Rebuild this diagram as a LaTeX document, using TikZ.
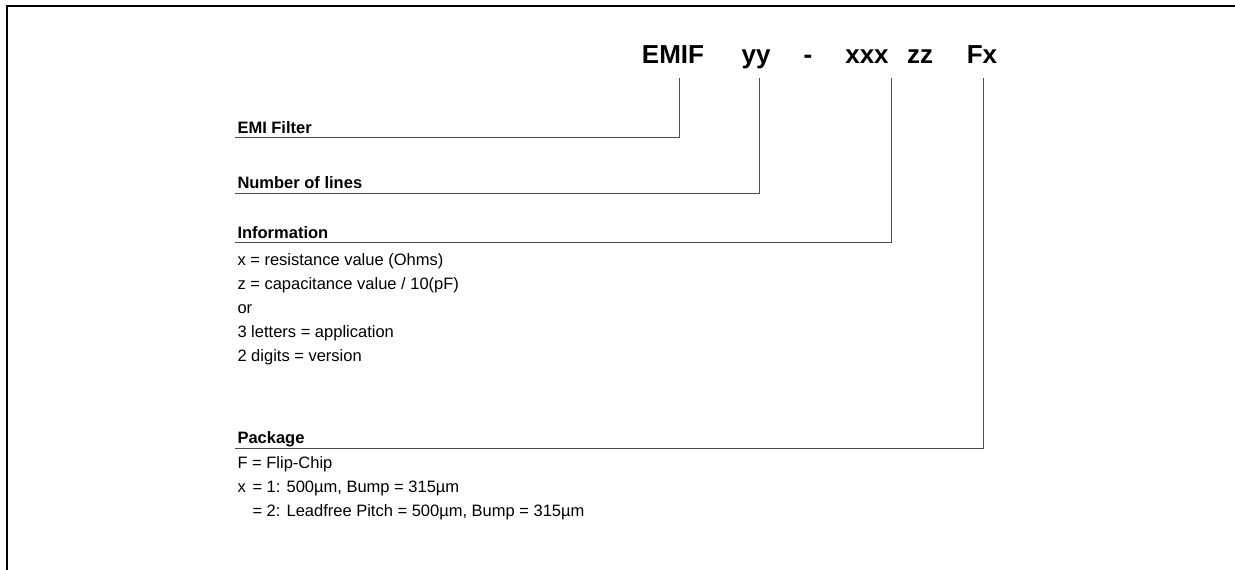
\documentclass[tikz,border=0pt]{standalone}
\usepackage{fontspec}
\setmainfont{Liberation Sans}
\usetikzlibrary{positioning}
\tikzset{
  every picture/.style={line width=1pt},
  code/.style={font=\fontsize{26}{30}\selectfont\bfseries, anchor=base, inner sep=0pt},
  field/.style={font=\fontsize{16.5}{20}\selectfont\bfseries, anchor=base west, inner sep=0pt},
  txt/.style={font=\fontsize{16.5}{20}\selectfont, anchor=base west, inner sep=0pt},
  lead/.style={draw=black!70, line width=1pt},
  frame/.style={draw=black, line width=2pt},
}
\begin{document}
\begin{tikzpicture}[x=1pt, y=-1pt]
  \useasboundingbox (0,0) rectangle (1235,570);
  \draw[frame] (7,570) -- (7,6) -- (1235,6);
  % ordering code
  \node[code] (emif) at (673,63) {EMIF};
  \node[code] (yy) at (756,63) {yy};
  \node[code] (dash) at (808,63) {-};
  \node[code] (xxx) at (867,63) {xxx};
  \node[code] (zz) at (920,63) {zz};
  \node[code] (fx) at (982,63) {Fx};
  % fields
  \node[field] (emi) at (237,133) {EMI Filter};
  \node[field] (lines) at (237,188) {Number of lines};
  \node[field] (info) at (237,238) {Information};
  \node[txt] (i1) at (237,265) {x = resistance value (Ohms)};
  \node[txt] (i2) at (237,289) {z = capacitance value / 10(pF)};
  \node[txt] (i3) at (237,313) {or};
  \node[txt] (i4) at (237,337) {3 letters = application};
  \node[txt] (i5) at (237,361) {2 digits = version};
  \node[field] (pkg) at (237,443) {Package};
  \node[txt] (p1) at (237,468) {F = Flip-Chip};
  \node[txt] (p2) at (237,492) {x};
  \node[txt] (p2b) at (252,492) {= 1: 500µm, Bump = 315µm};
  \node[txt] (p3) at (252,516) {= 2: Leadfree Pitch = 500µm, Bump = 315µm};
  % leader lines
  \coordinate (emif-t) at (679,78);
  \coordinate (yy-t) at (759,78);
  \coordinate (xxx-t) at (891,78);
  \coordinate (fx-t) at (983,78);
  \coordinate (emi-l) at (235,137);
  \coordinate (lines-l) at (235,193);
  \coordinate (info-l) at (235,242);
  \coordinate (pkg-l) at (235,448);
  \draw[lead] (emif-t) |- (emi-l);
  \draw[lead] (yy-t) |- (lines-l);
  \draw[lead] (xxx-t) |- (info-l);
  \draw[lead] (fx-t) |- (pkg-l);
\end{tikzpicture}
\end{document}
